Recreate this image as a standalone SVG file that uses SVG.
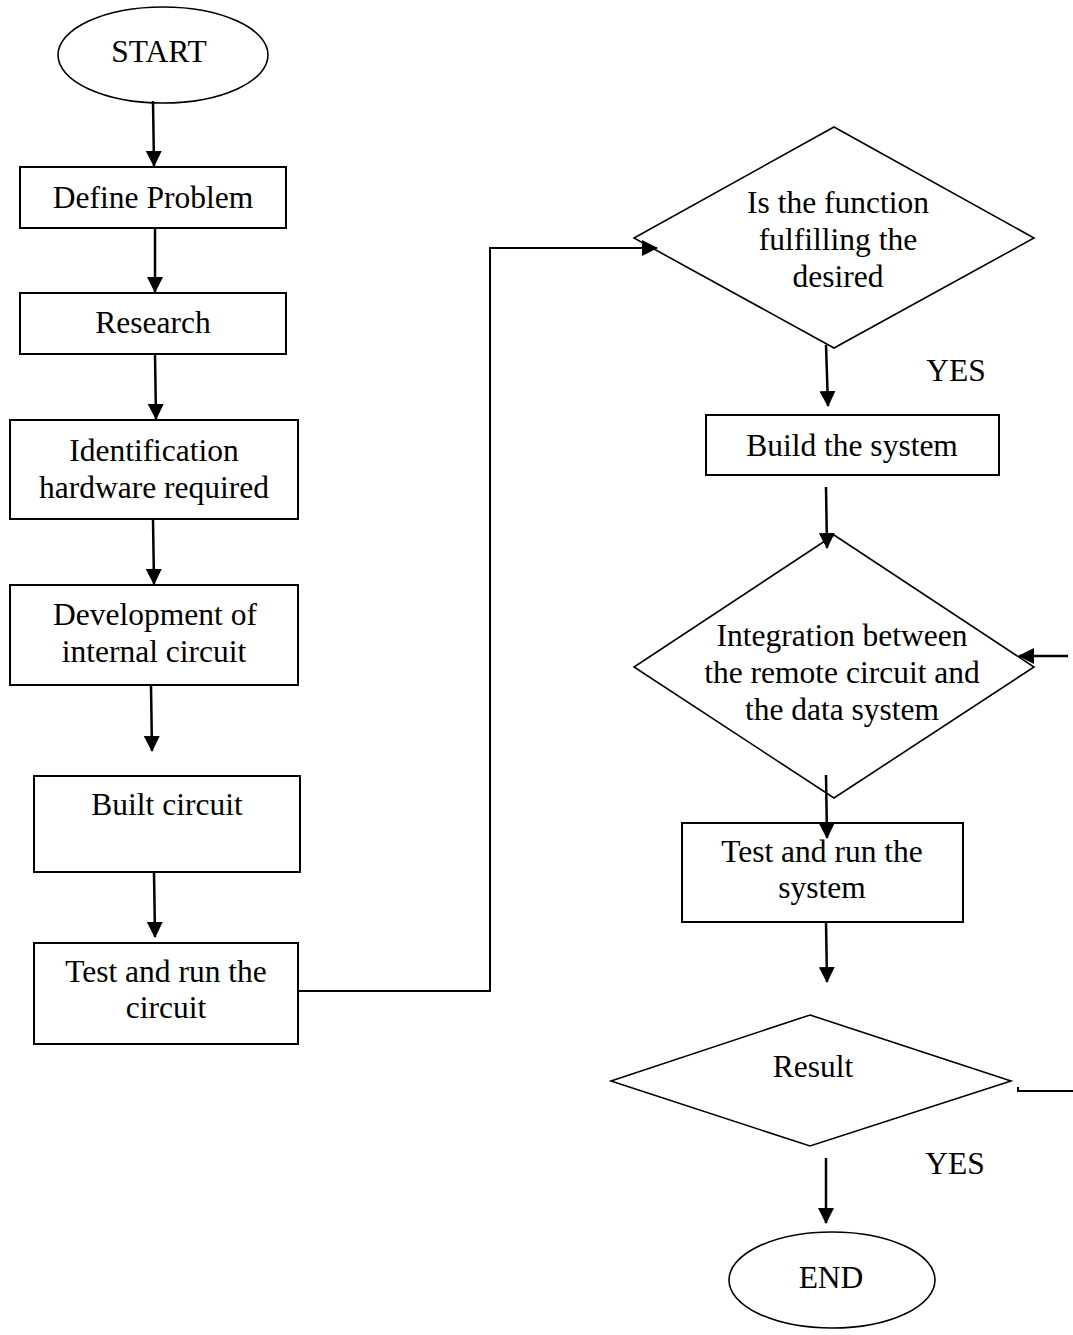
<svg xmlns="http://www.w3.org/2000/svg" width="1073" height="1335" viewBox="0 0 1073 1335">
<defs>
<marker id="ah" markerUnits="userSpaceOnUse" markerWidth="16" markerHeight="16" viewBox="0 0 16 16" refX="15" refY="8" orient="auto">
<path d="M0,0 L16,8 L0,16 z" fill="#000"/>
</marker>
</defs>
<style>
text{font-family:"Liberation Serif","Times New Roman",serif;font-size:31.5px;fill:#000;text-anchor:middle}
.box{fill:#fff;stroke:#000;stroke-width:2}
.dia{fill:#fff;stroke:#000;stroke-width:1.6}
.ell{fill:#fff;stroke:#000;stroke-width:1.6}
.arr{fill:none;stroke:#000;stroke-width:2.5;marker-end:url(#ah)}
.ln{fill:none;stroke:#000;stroke-width:2}
</style>
<rect width="1073" height="1335" fill="#fff"/>

<g id="start"><ellipse class="ell" cx="163" cy="55" rx="105" ry="48"/><text x="159" y="62">START</text></g>
<g id="define"><rect class="box" x="20" y="167" width="266" height="61"/><text x="153" y="208">Define Problem</text></g>
<g id="research"><rect class="box" x="20" y="293" width="266" height="61"/><text x="153" y="333">Research</text></g>
<g id="identify"><rect class="box" x="10" y="420" width="288" height="99"/><text x="154" y="461">Identification</text><text x="154" y="498">hardware required</text></g>
<g id="develop"><rect class="box" x="10" y="585" width="288" height="100"/><text x="155" y="625">Development of</text><text x="154" y="662">internal circuit</text></g>
<g id="built"><rect class="box" x="34" y="776" width="266" height="96"/><text x="167" y="815">Built circuit</text></g>
<g id="testcircuit"><rect class="box" x="34" y="943" width="264" height="101"/><text x="166" y="982">Test and run the</text><text x="166" y="1018">circuit</text></g>

<g id="decision1"><polygon class="dia" points="834,127 1034,238 834,348 634,238"/><text x="838" y="213">Is the function</text><text x="838" y="250">fulfilling the</text><text x="838" y="287">desired</text></g>
<g id="yes1"><text x="956" y="381">YES</text></g>
<g id="buildsystem"><rect class="box" x="706" y="415" width="293" height="60"/><text x="852" y="456">Build the system</text></g>
<g id="decision2"><polygon class="dia" points="834,535 1034,667 834,798 634,667"/><text x="842" y="646">Integration between</text><text x="842" y="683">the remote circuit and</text><text x="842" y="720">the data system</text></g>
<g id="testsystem"><rect class="box" x="682" y="823" width="281" height="99"/><text x="822" y="862">Test and run the</text><text x="822" y="898">system</text></g>
<g id="result"><polygon class="dia" points="810,1015 1011,1081 810,1146 611,1081"/><text x="813" y="1077">Result</text></g>
<g id="yes2"><text x="955" y="1174">YES</text></g>
<g id="end"><ellipse class="ell" cx="832" cy="1280" rx="103" ry="48"/><text x="831" y="1288">END</text></g>

<g id="connectors">
<path class="arr" d="M153,101 L154,166"/>
<path class="arr" d="M155,228 L155,292"/>
<path class="arr" d="M155,354 L156,419"/>
<path class="arr" d="M153,519 L154,584"/>
<path class="arr" d="M151,686 L152,751"/>
<path class="arr" d="M154,872 L155,937"/>
<path class="arr" style="stroke-width:2" d="M298,991 L490,991 L490,248 L657,248"/>
<path class="arr" d="M826,345 L828,406"/>
<path class="arr" d="M826,487 L827,548"/>
<path class="arr" d="M1068,656 L1019,656"/>
<path class="arr" d="M826,775 L827,838"/>
<path class="arr" d="M826,922 L827,982"/>
<path class="ln" d="M1018,1087 L1018,1091 L1073,1091"/>
<path class="arr" d="M826,1158 L826,1223"/>
</g>
</svg>
